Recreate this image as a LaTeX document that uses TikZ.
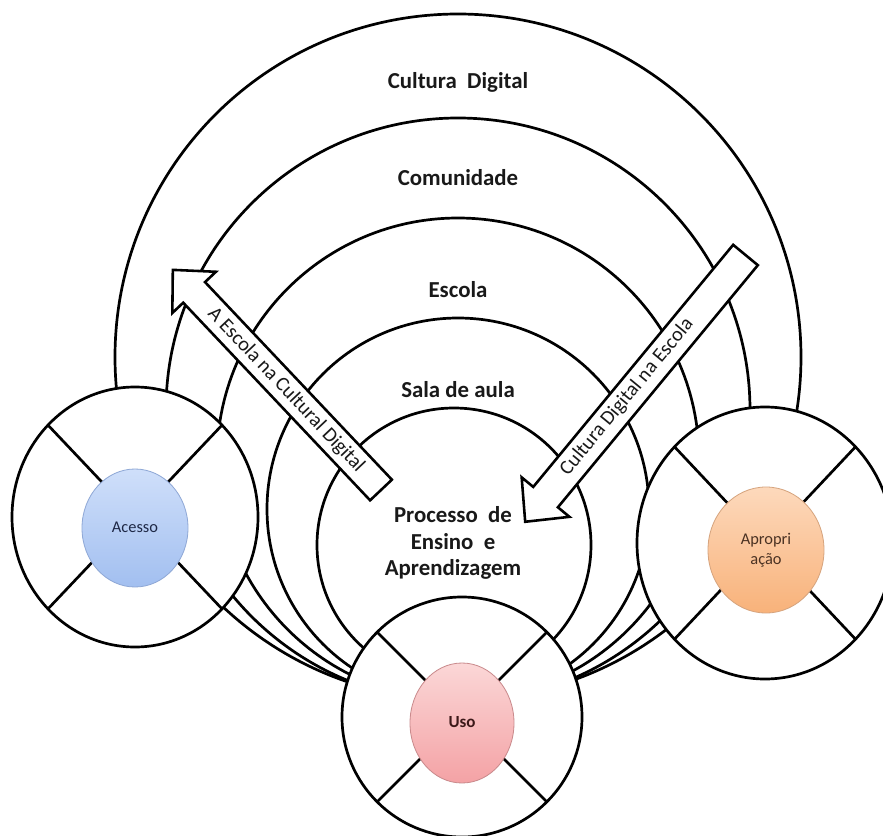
\documentclass[tikz,border=0pt]{standalone}
\usepackage{fontspec}
\setmainfont{Carlito}
\definecolor{accTop}{HTML}{CFDFFA}
\definecolor{accBot}{HTML}{A2BFF0}
\definecolor{accLine}{HTML}{8FA8D6}
\definecolor{usoTop}{HTML}{FBD7D7}
\definecolor{usoBot}{HTML}{F4A2A5}
\definecolor{usoLine}{HTML}{C98A8C}
\definecolor{aprTop}{HTML}{FDD9BC}
\definecolor{aprBot}{HTML}{F8B27A}
\definecolor{aprLine}{HTML}{D6A47E}
\begin{document}
\begin{tikzpicture}[x=0.03cm,y=-0.03cm,
  ring/.style={draw=black, line width=2.3pt, fill=white},
  spoke/.style={draw=black, line width=2.3pt},
  blockarrow/.style={draw=black, line width=2.2pt, fill=white, line join=miter, miter limit=10},
  biglabel/.style={font=\fontsize{19.5}{22.8}\selectfont\bfseries, align=center, text=black!90},
  arrowlabel/.style={font=\fontsize{17.3}{20}\selectfont, text=black!90, inner sep=0pt},
  smalllabel/.style={font=\fontsize{14}{17}\selectfont, align=center, inner sep=0pt}]
\useasboundingbox (0,0) rectangle (883,836);
\fill[white] (0,0) rectangle (883,836);
\clip (0,0) rectangle (883,836);

% nested circles
\path[ring] (458,357) circle [radius=343];
\path[ring] (458,410) circle [radius=292];
\path[ring] (458,459) circle [radius=241];
\path[ring] (458,509) circle [radius=191];
\path[ring] (454,545) circle [radius=137];

% block arrows
\begin{scope}[shift={(381,490)}, rotate=133.4]
  \path[blockarrow] (0,-15) -- (272,-15) -- (272,-30) -- (303,0) -- (272,30) -- (272,15) -- (0,15) -- cycle;
\end{scope}
\begin{scope}[shift={(745.5,255)}, rotate=230.45]
  \path[blockarrow] (0,-16) -- (314,-16) -- (314,-31) -- (346,0) -- (314,31) -- (314,16) -- (0,16) -- cycle;
\end{scope}

% Acesso ring
\fill[white] (135,517) ellipse [x radius=123, y radius=130];
\begin{scope}
  \clip (135,517) ellipse [x radius=123, y radius=130];
  \path[spoke] (28,404) -- (242,630);
  \path[spoke] (242,404) -- (28,630);
\end{scope}
\draw[line width=2.3pt] (135,517) ellipse [x radius=123, y radius=130];
\shade[top color=accTop, bottom color=accBot, draw=accLine, line width=0.7pt] (135,528) ellipse [x radius=53, y radius=59];

% Uso ring
\fill[white] (462,717) circle [radius=120];
\begin{scope}
  \clip (462,717) circle [radius=120];
  \path[spoke] (327,582) -- (597,852);
  \path[spoke] (597,582) -- (327,852);
\end{scope}
\draw[line width=2.3pt] (462,717) circle [radius=120];
\shade[top color=usoTop, bottom color=usoBot, draw=usoLine, line width=0.7pt] (462,723) ellipse [x radius=52, y radius=60];

% Apropriacao ring
\fill[white] (765,543) ellipse [x radius=128, y radius=136];
\begin{scope}
  \clip (765,543) ellipse [x radius=128, y radius=136];
  \path[spoke] (654,425) -- (876,661);
  \path[spoke] (876,425) -- (654,661);
\end{scope}
\draw[line width=2.3pt] (765,543) ellipse [x radius=128, y radius=136];
\shade[top color=aprTop, bottom color=aprBot, draw=aprLine, line width=0.7pt] (766,550) ellipse [x radius=58, y radius=63];

% labels
\node[biglabel] (cultura) at (458,82) {Cultura\ \ Digital};
\node[biglabel] (comunidade) at (458,178) {Comunidade};
\node[biglabel] (escola) at (458,290) {Escola};
\node[biglabel] (sala) at (458,390) {Sala de aula};
\node[biglabel] (processo) at (453,543) {Processo\ \ de\\Ensino\ \ e\\Aprendizagem};
\node[arrowlabel, rotate=-46.6] (escolaNa) at (286,390) {A Escola na Cultural Digital};
\node[arrowlabel, rotate=50.45] (culturaNa) at (627,397) {Cultura Digital na Escola};
\node[smalllabel, text={rgb,255:red,30;green,40;blue,70}] (acesso) at (135,527) {Acesso};
\node[smalllabel, font=\fontsize{14.5}{17}\selectfont\bfseries, text={rgb,255:red,60;green,25;blue,25}] (uso) at (462,722) {Uso};
\node[smalllabel, text={rgb,255:red,75;green,50;blue,35}] (apropriacao) at (766,550) {Apropri\\ação};
\end{tikzpicture}
\end{document}
